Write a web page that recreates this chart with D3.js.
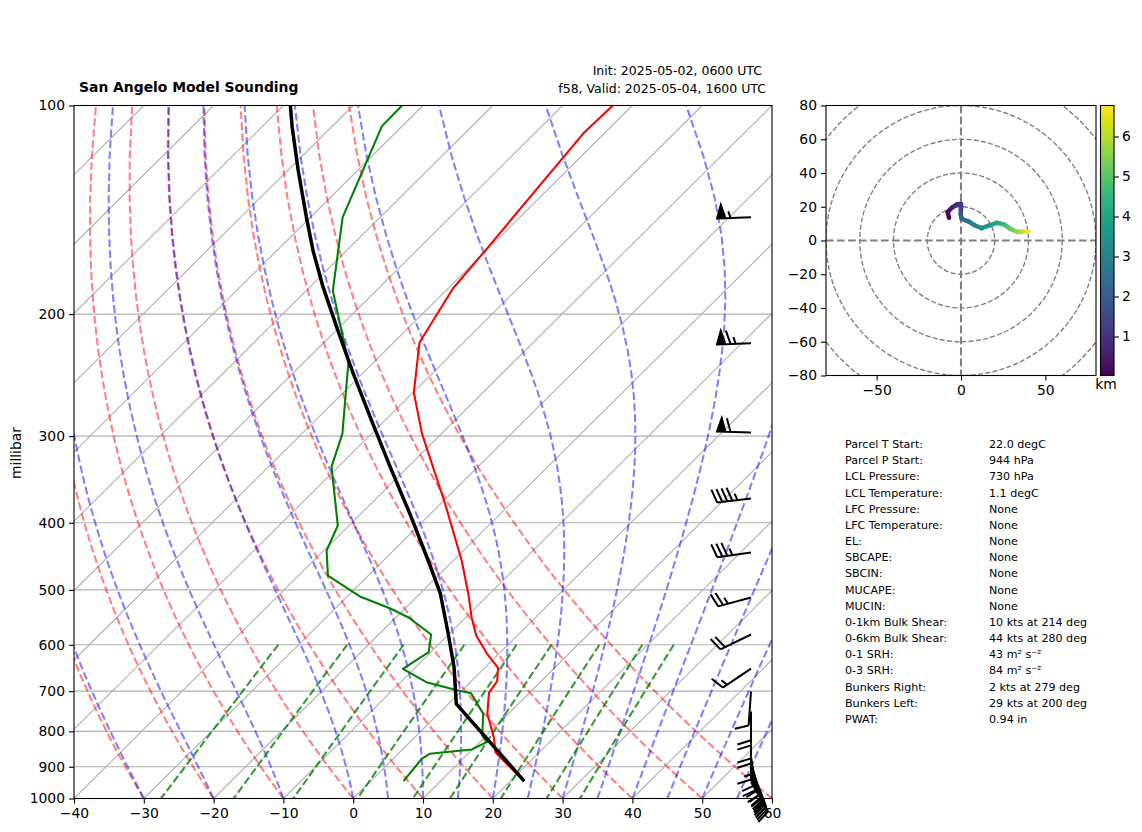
<!DOCTYPE html>
<html>
<head>
<meta charset="utf-8">
<title>San Angelo Model Sounding</title>
<script src="https://d3js.org/d3.v7.min.js"></script>
<style>
  body { margin: 0; background: #fff; }
  text { font-family: "DejaVu Sans", sans-serif; fill: #000; }
  .tick text { font-size: 13.9px; }
  .domain { stroke: none; }
  .tick line { stroke: #000; stroke-width: 1.1px; }
</style>
</head>
<body>
<div id="chart"></div>
<script>
// sounding values
var tempP = [100, 109.7, 163, 183.7, 219.8, 259.5, 297.5, 374, 453.5, 506, 547.5, 581.8, 618.3, 647.7, 677.2, 703.9, 754.7, 815.7, 857.4, 871.9, 944];
var tempT = [-62.8, -63, -60.1, -59.3, -56.3, -49.9, -42.8, -29.6, -18.8, -13.1, -9.2, -5.9, -1.7, 1.9, 3.7, 4.2, 7, 11.3, 13.7, 15.1, 22];

var dewP = [100, 107.1, 144.9, 185, 234.9, 297.5, 331.9, 403.7, 438.6, 476.7, 511, 531.8, 547.5, 579.9, 615, 649.9, 679.5, 696.9, 704.8, 754.7, 811.2, 829.3, 849.7, 862, 876.8, 944];
var dewT = [-93, -92.9, -85.4, -76.2, -63.6, -54.2, -51, -41.6, -39.6, -35.8, -28.2, -22.1, -18.3, -12.5, -10.3, -11.6, -6.3, -1.1, 1.7, 6.4, 9.4, 11, 9.9, 4.5, 4.1, 4.7];

var parcelP = [100, 107.5, 124.1, 144.9, 162, 181.9, 211.3, 242.9, 283, 334.2, 390.6, 453.5, 506, 578, 646.4, 730, 944];
var parcelT = [-109, -105.6, -98.5, -90.6, -84.8, -78.4, -69.7, -61.5, -52.3, -42.2, -32.6, -23.6, -17.1, -10.2, -4.5, 1.1, 22];

var barbP =     [145, 220.4, 296.5, 369, 441.6, 512.9, 579.9, 649.4, 700.8, 748.7, 795, 838.6, 869.6, 885, 898, 909, 920, 930, 939, 947];
var barbSpeed = [55, 65, 60, 45, 35, 25, 20, 15, 10, 20, 20, 15, 20, 20, 20, 20, 20, 20, 20, 20];
var barbDir =   [268, 268, 272, 263, 262, 255, 244, 236, 184, 180, 180, 180, 172, 165, 160, 157, 155, 153, 152, 150];

var hodoU = [-7.1, -7.9, -5.5, -2.6, 0, 0, -0.2, 0.4, 4.3, 8.3, 12.3, 16.8, 21.2, 25.5, 29.1, 33.1, 40];
var hodoV = [13.5, 16.8, 19.4, 21.3, 21.8, 18.9, 15.8, 12.8, 11.4, 8.9, 7.3, 8.9, 10.5, 9.5, 7, 5.2, 5.3];
var hodoH = [0.03, 0.2, 0.5, 0.8, 1.1, 1.4, 1.8, 2.2, 2.6, 3, 3.3, 3.7, 4.1, 4.6, 5.1, 5.6, 6.77];

var tempTicks = [-40, -30, -20, -10, 0, 10, 20, 30, 40, 50, 60];
var pressTicks = [100, 200, 300, 400, 500, 600, 700, 800, 900, 1000];
var hodoXTicks = [-50, 0, 50];
var hodoYTicks = [-80, -60, -40, -20, 0, 20, 40, 60, 80];
var hodoRings = [20, 40, 60, 80, 100];
var cbarTicks = [1, 2, 3, 4, 5, 6];

// reference curves: start temperatures at 1000 hPa, mixing ratios in kg/kg
var dryStarts = [-40, -30, -20, -10, 0, 10, 20, 30, 40, 50, 60];
var moistStarts = [-40, -30, -20, -10, 0, 5, 10, 15, 20, 25, 30, 35, 40, 45, 50, 55, 60];
var mixRatios = [0.0004, 0.001, 0.002, 0.004, 0.007, 0.01, 0.016, 0.024, 0.032];
var isotherms = d3.range(-130, 61, 10);

var statLabels = ["Parcel T Start:", "Parcel P Start:", "LCL Pressure:", "LCL Temperature:", "LFC Pressure:", "LFC Temperature:", "EL:", "SBCAPE:", "SBCIN:", "MUCAPE:", "MUCIN:", "0-1km Bulk Shear:", "0-6km Bulk Shear:", "0-1 SRH:", "0-3 SRH:", "Bunkers Right:", "Bunkers Left:", "PWAT:"];
var statValues = ["22.0 degC", "944 hPa", "730 hPa", "1.1 degC", "None", "None", "None", "None", "None", "None", "None", "10 kts at 214 deg", "44 kts at 280 deg", "43 m\u00b2 s\u207b\u00b2", "84 m\u00b2 s\u207b\u00b2", "2 kts at 279 deg", "29 kts at 200 deg", "0.94 in"];

var svg = d3.select("#chart").append("svg").attr("width", 1142).attr("height", 832);

// ---- skew-T
var x = d3.scaleLinear().domain([-40, 60]).range([74, 772]);
var y = d3.scaleLog().domain([1000, 100]).range([798.5, 105.5]);

// the skew spans one full axes width over the axes height
var skew = 698 / 693;
function skewX(t, p) {
    return x(t) + skew * (y(1000) - y(p));
}

var skewLine = d3.line()
    .x(function(d) { return skewX(d[0], d[1]); })
    .y(function(d) { return y(d[1]); });

svg.append("clipPath").attr("id", "skewClip").append("rect")
    .attr("x", 74).attr("y", 105.5).attr("width", 698).attr("height", 693);

var plot = svg.append("g").attr("clip-path", "url(#skewClip)");

pressTicks.forEach(function(p) {
    plot.append("line").attr("x1", 74).attr("x2", 772).attr("y1", y(p)).attr("y2", y(p))
        .attr("stroke", "#b0b0b0").attr("stroke-width", 1.1);
});
isotherms.forEach(function(t) {
    plot.append("path").attr("d", skewLine([[t, 1000], [t, 100]]))
        .attr("fill", "none").attr("stroke", "#b0b0b0").attr("stroke-width", 1.1);
});

var levels = d3.range(0, 51).map(function(i) { return 1000 - 900 * i / 50; });

// dry adiabats
dryStarts.forEach(function(t0) {
    var pts = levels.map(function(p) {
        return [(t0 + 273.15) * Math.pow(p / 1000, 0.2857) - 273.15, p];
    });
    plot.append("path").attr("d", skewLine(pts)).attr("fill", "none")
        .attr("stroke", "#ff0000").attr("stroke-opacity", 0.5).attr("stroke-width", 2.08)
        .attr("stroke-dasharray", "7.7,3.3");
});

// moist adiabats, stepped in ln p
function satMix(tk, p) {
    var tc = tk - 273.15;
    var es = 6.112 * Math.exp(17.67 * tc / (tc + 243.5));
    return 0.622 * es / (p - es);
}
function moistSlope(tk, p) {
    var rs = satMix(tk, p);
    return (287 * tk + 2.501e6 * rs) / (1005 + 2.501e6 * 2.501e6 * rs * 0.622 / (287 * tk * tk));
}
moistStarts.forEach(function(t0) {
    var tk = t0 + 273.15;
    var pts = [[t0, 1000]];
    for (var i = 1; i < levels.length; i++) {
        var p0 = levels[i - 1], p1 = levels[i];
        var h = Math.log(p1 / p0);
        var pm = p0 * Math.exp(h / 2);
        var k1 = moistSlope(tk, p0);
        var k2 = moistSlope(tk + h / 2 * k1, pm);
        var k3 = moistSlope(tk + h / 2 * k2, pm);
        var k4 = moistSlope(tk + h * k3, p1);
        tk += h / 6 * (k1 + 2 * k2 + 2 * k3 + k4);
        pts.push([tk - 273.15, p1]);
    }
    plot.append("path").attr("d", skewLine(pts)).attr("fill", "none")
        .attr("stroke", "#0000ff").attr("stroke-opacity", 0.5).attr("stroke-width", 2.08)
        .attr("stroke-dasharray", "7.7,3.3");
});

// mixing ratio lines
var mixLevels = [600, 700, 800, 900, 1000];
mixRatios.forEach(function(w) {
    var pts = mixLevels.map(function(p) {
        var l = Math.log(p * w / (0.622 + w) / 6.112);
        return [243.5 * l / (17.67 - l), p];
    });
    plot.append("path").attr("d", skewLine(pts)).attr("fill", "none")
        .attr("stroke", "#008000").attr("stroke-opacity", 0.8).attr("stroke-width", 2.08)
        .attr("stroke-dasharray", "7.7,3.3");
});

function drawProfile(ps, ts, color, width) {
    plot.append("path").attr("d", skewLine(ps.map(function(p, i) { return [ts[i], p]; })))
        .attr("fill", "none").attr("stroke", color).attr("stroke-width", width)
        .attr("stroke-linejoin", "round");
}
drawProfile(tempP, tempT, "#ff0000", 2.08);
drawProfile(dewP, dewT, "#008000", 2.08);
drawProfile(parcelP, parcelT, "#000000", 3.5);

svg.append("rect").attr("x", 74).attr("y", 105.5).attr("width", 698).attr("height", 693)
    .attr("fill", "none").attr("stroke", "#000").attr("stroke-width", 1.1);

svg.append("g").attr("transform", "translate(0,798.5)")
    .call(d3.axisBottom(x).tickValues(tempTicks).tickSize(5).tickPadding(5));
svg.append("g").attr("transform", "translate(74,0)")
    .call(d3.axisLeft(y).tickValues(pressTicks).tickFormat(d3.format("d")).tickSize(5).tickPadding(4));

svg.append("text").attr("transform", "translate(21,453) rotate(-90)")
    .attr("text-anchor", "middle").style("font-size", "13.9px").text("millibar");

svg.append("text").attr("x", 79).attr("y", 92).style("font-size", "13.9px").style("font-weight", "bold")
    .text("San Angelo Model Sounding");
svg.append("text").attr("x", 762).attr("y", 74.5).attr("text-anchor", "end").style("font-size", "12.5px")
    .text("Init: 2025-05-02, 0600 UTC");
svg.append("text").attr("x", 766).attr("y", 92.5).attr("text-anchor", "end").style("font-size", "12.5px")
    .text("f58, Valid: 2025-05-04, 1600 UTC");

// ---- wind barbs, same proportions as matplotlib's
var barbX = 751, barbLen = 34;
function barbPath(by, speed, dir) {
    var rad = dir * Math.PI / 180;
    var sx = Math.sin(rad), sy = -Math.cos(rad);
    var nx = -sy, ny = sx;
    var h = 0.4 * barbLen, w = 0.25 * barbLen, gap = 0.15 * barbLen;
    function pt(along, out) {
        return (barbX + sx * along + nx * out) + "," + (by + sy * along + ny * out);
    }
    var rest = Math.round(speed / 5) * 5;
    var flags = Math.floor(rest / 50); rest -= flags * 50;
    var fulls = Math.floor(rest / 10); rest -= fulls * 10;
    var half = rest >= 5;
    var d = "M" + pt(0, 0) + "L" + pt(barbLen, 0);
    var off = 0, i;
    for (i = 0; i < flags; i++) {
        d += "M" + pt(barbLen - off, 0) + "L" + pt(barbLen - off - w / 2, h) + "L" + pt(barbLen - off - w, 0) + "Z";
        off += w + gap;
    }
    for (i = 0; i < fulls; i++) {
        d += "M" + pt(barbLen - off, 0) + "L" + pt(barbLen - off + w / 2, h);
        off += gap;
    }
    if (half) {
        if (off === 0) off = 1.5 * gap;
        d += "M" + pt(barbLen - off, 0) + "L" + pt(barbLen - off + w / 4, h / 2);
    }
    return d;
}
var barbs = svg.append("g");
barbP.forEach(function(p, i) {
    barbs.append("path").attr("d", barbPath(y(p), barbSpeed[i], barbDir[i]))
        .attr("fill", "#000").attr("stroke", "#000").attr("stroke-width", 2);
});

// ---- hodograph
var hx = d3.scaleLinear().domain([-80, 80]).range([826, 1096]);
var hy = d3.scaleLinear().domain([-80, 80]).range([375.5, 105.5]);

svg.append("clipPath").attr("id", "hodoClip").append("rect")
    .attr("x", 826).attr("y", 105.5).attr("width", 270).attr("height", 270);

var hodo = svg.append("g").attr("clip-path", "url(#hodoClip)");

hodoRings.forEach(function(r) {
    hodo.append("circle").attr("cx", hx(0)).attr("cy", hy(0)).attr("r", hx(r) - hx(0))
        .attr("fill", "none").attr("stroke", "#808080").attr("stroke-width", 1.39)
        .attr("stroke-dasharray", "5.1,2.2");
});
hodo.append("line").attr("x1", 826).attr("x2", 1096).attr("y1", hy(0)).attr("y2", hy(0))
    .attr("stroke", "#808080").attr("stroke-width", 2.08).attr("stroke-dasharray", "7.7,3.3");
hodo.append("line").attr("x1", hx(0)).attr("x2", hx(0)).attr("y1", 105.5).attr("y2", 375.5)
    .attr("stroke", "#808080").attr("stroke-width", 2.08).attr("stroke-dasharray", "7.7,3.3");

var cbarMin = 0.025, cbarMax = 6.775;
var color = d3.scaleSequential(d3.interpolateViridis).domain([cbarMin, cbarMax]);
var defs = svg.append("defs");

hodoU.forEach(function(u, i) {
    if (i === 0) return;
    var x1 = hx(hodoU[i - 1]), y1 = hy(hodoV[i - 1]), x2 = hx(u), y2 = hy(hodoV[i]);
    var g = defs.append("linearGradient").attr("id", "seg" + i)
        .attr("gradientUnits", "userSpaceOnUse")
        .attr("x1", x1).attr("y1", y1).attr("x2", x2).attr("y2", y2);
    g.append("stop").attr("offset", "0%").attr("stop-color", color(hodoH[i - 1]));
    g.append("stop").attr("offset", "100%").attr("stop-color", color(hodoH[i]));
    hodo.append("path").attr("d", "M" + x1 + "," + y1 + "L" + x2 + "," + y2 + (x1 === x2 ? "h0.01" : ""))
        .attr("fill", "none").attr("stroke", "url(#seg" + i + ")")
        .attr("stroke-width", 4.5).attr("stroke-linecap", "round");
});

svg.append("rect").attr("x", 826).attr("y", 105.5).attr("width", 270).attr("height", 270)
    .attr("fill", "none").attr("stroke", "#000").attr("stroke-width", 1.1);
svg.append("g").attr("transform", "translate(0,375.5)")
    .call(d3.axisBottom(hx).tickValues(hodoXTicks).tickSize(5).tickPadding(5));
svg.append("g").attr("transform", "translate(826,0)")
    .call(d3.axisLeft(hy).tickValues(hodoYTicks).tickSize(5).tickPadding(4));

// ---- colorbar
var cb = d3.scaleLinear().domain([cbarMin, cbarMax]).range([375.5, 105.5]);
var cbGrad = defs.append("linearGradient").attr("id", "cbGrad")
    .attr("x1", "0%").attr("y1", "100%").attr("x2", "0%").attr("y2", "0%");
d3.range(0, 21).forEach(function(i) {
    cbGrad.append("stop").attr("offset", (i * 5) + "%").attr("stop-color", d3.interpolateViridis(i / 20));
});
svg.append("rect").attr("x", 1100.5).attr("y", 105.5).attr("width", 13.5).attr("height", 270)
    .attr("fill", "url(#cbGrad)").attr("stroke", "#000").attr("stroke-width", 1.1);
svg.append("g").attr("transform", "translate(1114,0)")
    .call(d3.axisRight(cb).tickValues(cbarTicks).tickFormat(d3.format("d")).tickSize(5).tickPadding(3));
svg.append("text").attr("x", 1106).attr("y", 389).attr("text-anchor", "middle")
    .style("font-size", "13.9px").text("km");

// ---- stats table
var rowY = d3.scaleLinear().domain([0, statLabels.length - 1]).range([448, 723]);
statLabels.forEach(function(label, i) {
    svg.append("text").attr("x", 845).attr("y", rowY(i)).style("font-size", "11.1px").text(label);
    svg.append("text").attr("x", 989).attr("y", rowY(i)).style("font-size", "11.1px").text(statValues[i]);
});
</script>
</body>
</html>
